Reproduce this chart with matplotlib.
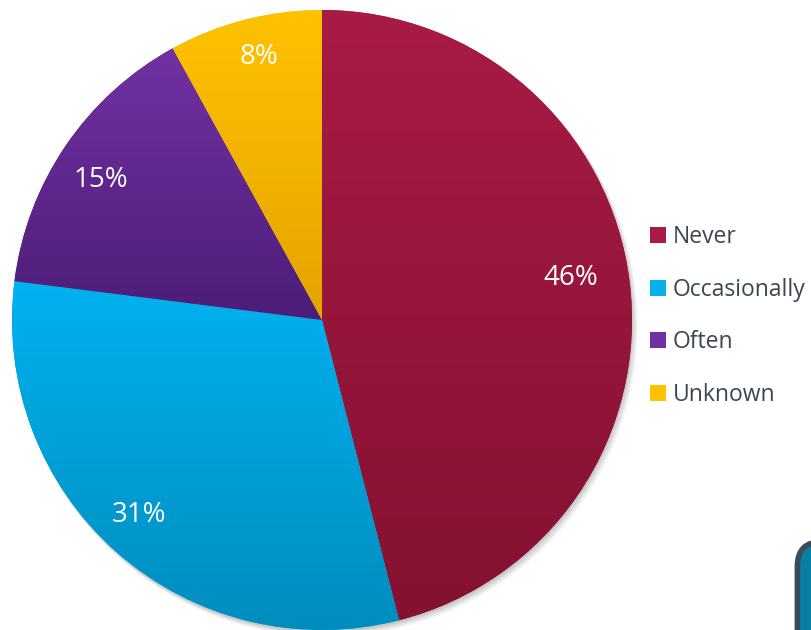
import matplotlib
matplotlib.use("Agg")
import matplotlib.pyplot as plt
import numpy as np
from matplotlib.colors import LinearSegmentedColormap
from matplotlib.patches import FancyBboxPatch, Circle, Patch

labels = ["Never", "Occasionally", "Often", "Unknown"]
values = [46, 31, 15, 8]
top_colors = ["#A81B46", "#00B2F0", "#7231A2", "#FFC200"]
bottom_colors = ["#841130", "#008DBE", "#4C1D78", "#E4A300"]

plt.rcParams['font.family'] = ['Open Sans', 'DejaVu Sans']

fig = plt.figure(figsize=(8.12, 6.3), dpi=100)
ax = fig.add_axes([0, 0, 1, 1])

cx, cy, r = 322, 310, 310

# soft shadow under the pie
for k, a in enumerate([0.05, 0.05, 0.06, 0.07]):
    ax.add_patch(Circle((cx + 4 - k, cy - 5 + k), r + 1.5 - k * 0.5, color='black', alpha=a, lw=0, zorder=1))

wedges, texts = ax.pie(values, startangle=90, counterclock=False, center=(cx, cy), radius=r,
                       wedgeprops=dict(linewidth=0), frame=True)
ax.set_xlim(0, 812)
ax.set_ylim(0, 630)
ax.set_aspect('equal')
ax.axis('off')

# vertical gradient inside each slice
for w, c1, c2 in zip(wedges, top_colors, bottom_colors):
    w.set_facecolor(c1)
    w.set_zorder(2)
    ext = w.get_path().get_extents()
    cmap = LinearSegmentedColormap.from_list('g', [c2, c1])
    grad = np.linspace(0, 1, 256).reshape(-1, 1)
    im = ax.imshow(grad, cmap=cmap, aspect='auto', origin='lower',
                   extent=(ext.x0, ext.x1, ext.y0, ext.y1), zorder=3)
    im.set_clip_path(w)

# percent labels
label_pos = [(571, 352), (139, 115), (101, 450), (259, 573)]
for v, (x, y) in zip(values, label_pos):
    ax.text(x, y, f"{v}%", color='white', fontsize=20, ha='center', va='center', zorder=5)

handles = [Patch(facecolor=c, edgecolor='none') for c in top_colors]
ax.legend(handles, labels, loc='upper left', bbox_to_anchor=(650 / 812, 1 - 225 / 630),
          frameon=False, fontsize=16.5, labelcolor='#3C4650', handlelength=0.7, handleheight=0.7,
          handletextpad=0.28, labelspacing=1.25, borderpad=0, borderaxespad=0)

# partial box at the bottom right corner
box = FancyBboxPatch((0.982, -0.1), 0.1, 0.24, boxstyle="round,pad=0,rounding_size=0.03",
                     transform=fig.transFigure, facecolor='#0A7FA6', edgecolor='#3A4A5A',
                     linewidth=4, zorder=6, mutation_aspect=812 / 630)
fig.patches.append(box)

fig.savefig("out.png", dpi=100)
